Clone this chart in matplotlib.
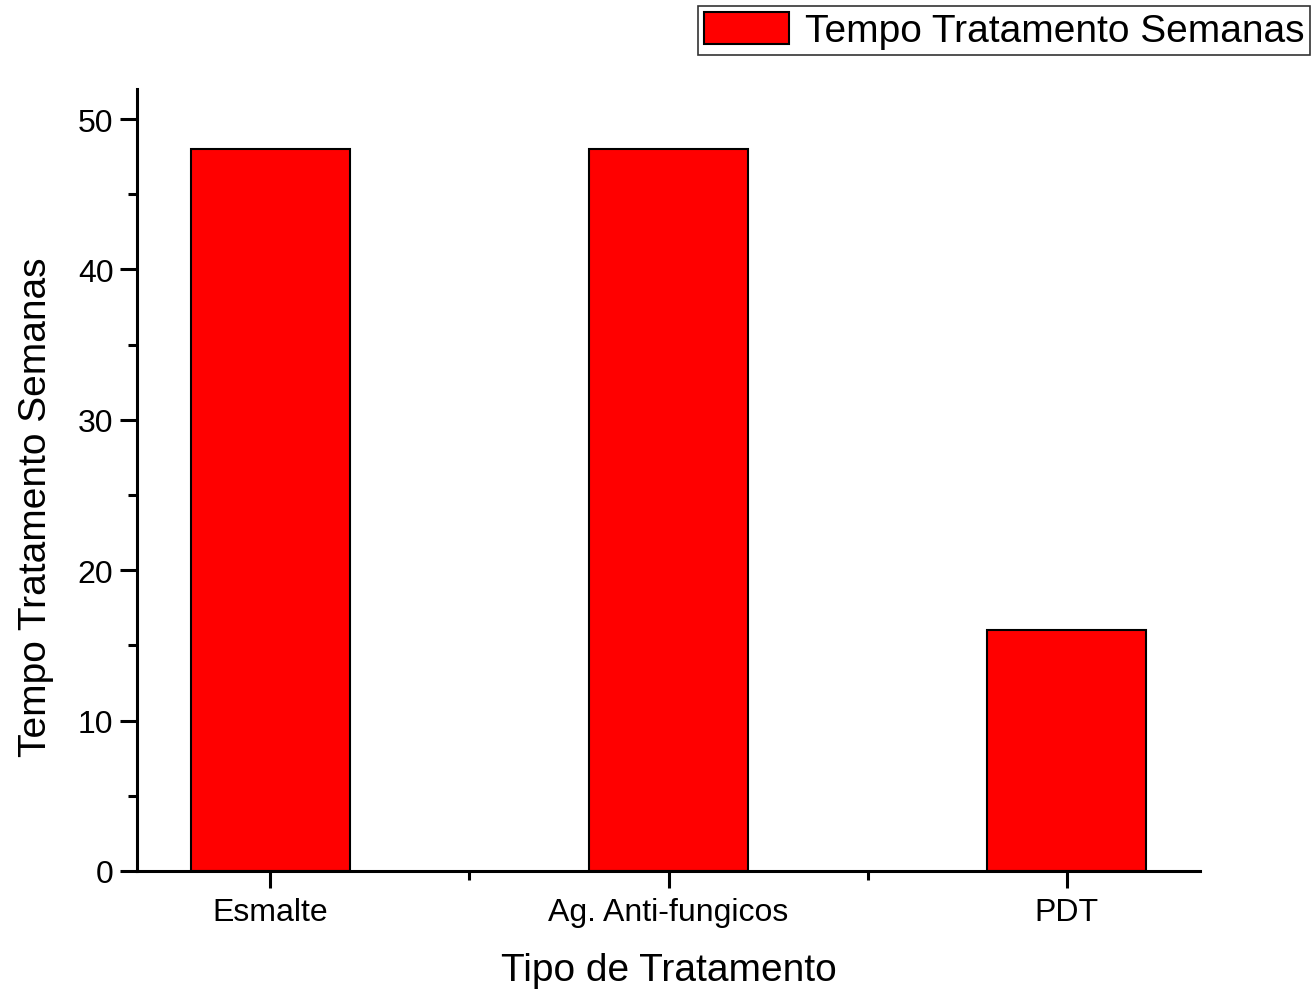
import matplotlib.pyplot as plt
from matplotlib.ticker import MultipleLocator, FixedLocator

plt.rcParams['font.family'] = ['Liberation Sans', 'DejaVu Sans']

categorias = ["Esmalte", "Ag. Anti-fungicos", "PDT"]
semanas = [48, 48, 16]
serie = "Tempo Tratamento Semanas"

fig = plt.figure(figsize=(13.16, 9.95), dpi=100)
ax = fig.add_axes([137 / 1316, 1 - 872 / 995, (1200 - 137) / 1316, (872 - 90) / 995])

x = list(range(len(categorias)))
ax.bar(x, semanas, width=0.4, color="#ff0000", edgecolor="black", linewidth=1.5,
       label=serie, zorder=2)

ax.set_xlim(-0.335, len(categorias) - 1 + 0.335)
ax.set_ylim(0, 52)

for s in ("top", "right"):
    ax.spines[s].set_visible(False)
for s in ("left", "bottom"):
    ax.spines[s].set_linewidth(2.2)
    ax.spines[s].set_zorder(3)

ax.set_xticks(x)
ax.set_xticklabels(categorias)
ax.xaxis.set_minor_locator(FixedLocator([i + 0.5 for i in x[:-1]]))
ax.yaxis.set_major_locator(MultipleLocator(10))
ax.yaxis.set_minor_locator(MultipleLocator(5))

ax.tick_params(axis="both", which="major", direction="out", length=12, width=2.2,
               labelsize=23)
ax.tick_params(axis="both", which="minor", direction="out", length=6.5, width=2.2)
ax.tick_params(axis="x", which="major", pad=7)
ax.tick_params(axis="y", which="major", pad=5)

ax.set_xlabel("Tipo de Tratamento", fontsize=28)
ax.xaxis.set_label_coords(0.5, -0.104)
ax.set_ylabel(serie, fontsize=28)
ax.yaxis.set_label_coords(-0.078, 0.467)

leg = fig.legend(loc="upper right", bbox_to_anchor=(1310 / 1316, 1 - 7 / 995),
                 fontsize=28, frameon=True, fancybox=False, edgecolor="black",
                 handlelength=2.2, handleheight=0.9, handletextpad=0.4,
                 borderpad=0.15, borderaxespad=0)
leg.get_frame().set_linewidth(1.2)

fig.savefig("out.png", dpi=100)
